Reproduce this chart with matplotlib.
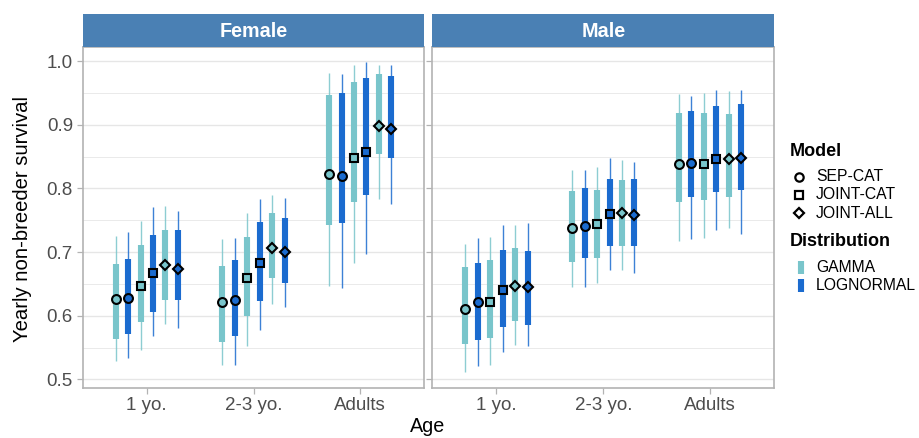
import matplotlib
matplotlib.use("Agg")
import matplotlib.pyplot as plt
import numpy as np

plt.rcParams['font.family'] = ['Liberation Sans', 'DejaVu Sans']

# ---------------- data ----------------
sexes = ["Female", "Male"]
ages = ["1 yo.", "2-3 yo.", "Adults"]
models = ["SEP-CAT", "JOINT-CAT", "JOINT-ALL"]
dists = ["GAMMA", "LOGNORMAL"]
# bars within each age group: (model, distribution)
combo_model = ["SEP-CAT", "SEP-CAT", "JOINT-CAT", "JOINT-CAT", "JOINT-ALL", "JOINT-ALL"]
combo_dist = ["GAMMA", "LOGNORMAL", "GAMMA", "LOGNORMAL", "GAMMA", "LOGNORMAL"]

# rows = ages, columns = combos
female_lo95 = [[0.529, 0.533, 0.546, 0.568, 0.587, 0.580],
               [0.522, 0.523, 0.553, 0.578, 0.619, 0.614],
               [0.647, 0.643, 0.683, 0.697, 0.783, 0.776]]
female_lo50 = [[0.563, 0.571, 0.590, 0.606, 0.625, 0.624],
               [0.559, 0.568, 0.600, 0.623, 0.659, 0.651],
               [0.742, 0.745, 0.778, 0.789, 0.854, 0.848]]
female_med = [[0.627, 0.628, 0.646, 0.667, 0.679, 0.674],
              [0.622, 0.625, 0.659, 0.683, 0.707, 0.700],
              [0.822, 0.819, 0.847, 0.857, 0.898, 0.893]]
female_hi50 = [[0.682, 0.689, 0.711, 0.726, 0.735, 0.734],
               [0.678, 0.687, 0.723, 0.747, 0.762, 0.754],
               [0.946, 0.950, 0.967, 0.973, 0.980, 0.976]]
female_hi95 = [[0.725, 0.732, 0.749, 0.770, 0.772, 0.765],
               [0.721, 0.722, 0.762, 0.784, 0.790, 0.785],
               [0.981, 0.979, 0.994, 0.998, 0.993, 0.993]]

male_lo95 = [[0.511, 0.521, 0.522, 0.543, 0.554, 0.552],
             [0.645, 0.645, 0.652, 0.672, 0.672, 0.667],
             [0.718, 0.720, 0.722, 0.735, 0.737, 0.729]]
male_lo50 = [[0.555, 0.562, 0.565, 0.583, 0.592, 0.586],
             [0.685, 0.690, 0.691, 0.709, 0.709, 0.710],
             [0.778, 0.786, 0.782, 0.795, 0.786, 0.798]]
male_med = [[0.611, 0.622, 0.621, 0.641, 0.647, 0.645],
            [0.738, 0.741, 0.744, 0.759, 0.762, 0.758],
            [0.839, 0.840, 0.838, 0.846, 0.846, 0.848]]
male_hi50 = [[0.676, 0.683, 0.687, 0.704, 0.706, 0.701],
             [0.796, 0.800, 0.798, 0.815, 0.813, 0.815],
             [0.919, 0.921, 0.919, 0.929, 0.917, 0.932]]
male_hi95 = [[0.712, 0.722, 0.723, 0.743, 0.743, 0.745],
             [0.829, 0.829, 0.833, 0.848, 0.845, 0.841],
             [0.948, 0.945, 0.950, 0.955, 0.953, 0.955]]

yticks = [0.5, 0.6, 0.7, 0.8, 0.9, 1.0]
ytick_labels = ["0.5", "0.6", "0.7", "0.8", "0.9", "1.0"]

# ---------------- style ----------------
dist_color = {"GAMMA": "#79C5CB", "LOGNORMAL": "#1B6BCF"}
model_marker = {"SEP-CAT": "o", "JOINT-CAT": "s", "JOINT-ALL": "D"}
model_ms = {"SEP-CAT": 6.4, "JOINT-CAT": 6.0, "JOINT-ALL": 5.5}
strip_color = "#4A80B4"
grid_color = "#E6E6E6"
border_color = "#B3B3B3"
text_grey = "#4D4D4D"

W, H = 920, 438
fig = plt.figure(figsize=(W / 100, H / 100), dpi=100)


def fx(px):
    return px / W


def fy(py):
    return 1 - py / H


panel_top, panel_bot = 47.0, 387.7
strip_top = 14.0
panels_x = [(82.7, 424.3), (432.3, 774.3)]

data = {
    "Female": (female_lo95, female_lo50, female_med, female_hi50, female_hi95),
    "Male": (male_lo95, male_lo50, male_med, male_hi50, male_hi95),
}

dodge = 0.7
n = len(combo_model)
step = dodge / n

for k, sex in enumerate(sexes):
    x0, x1 = panels_x[k]
    ax = fig.add_axes([fx(x0), fy(panel_bot), fx(x1 - x0), (panel_bot - panel_top) / H])
    lo95, lo50, med, hi50, hi95 = data[sex]
    for i, age in enumerate(ages):
        for j in range(n):
            x = i + (j - (n - 1) / 2) * step
            c = dist_color[combo_dist[j]]
            ax.vlines(x, lo95[i][j], hi95[i][j], color=c, lw=1.0, alpha=0.85, zorder=2)
            ax.vlines(x, lo50[i][j], hi50[i][j], color=c, lw=4.4, zorder=3)
            m = combo_model[j]
            ax.plot([x], [med[i][j]], ls="none", marker=model_marker[m],
                    ms=model_ms[m], mfc=c, mec="black", mew=1.5, zorder=4)
    ax.set_xlim(-0.6, len(ages) - 0.4)
    ax.set_ylim(0.487, 1.022)
    ax.set_xticks(range(len(ages)))
    ax.set_xticklabels(ages, fontsize=13.5, color=text_grey)
    ax.set_yticks(yticks)
    if k == 0:
        ax.set_yticklabels(ytick_labels, fontsize=13.5, color=text_grey)
    else:
        ax.set_yticklabels([])
    ax.set_yticks([0.55, 0.65, 0.75, 0.85, 0.95], minor=True)
    ax.grid(axis="y", which="major", color=grid_color, lw=1.0, zorder=0)
    ax.grid(axis="y", which="minor", color=grid_color, lw=0.6, zorder=0)
    ax.set_axisbelow(True)
    ax.tick_params(axis="both", which="major", length=4, width=0.9, color=border_color, pad=3)
    ax.tick_params(axis="y", which="minor", length=0)
    for sp in ax.spines.values():
        sp.set_color(border_color)
        sp.set_linewidth(1.2)

    # strip
    sax = fig.add_axes([fx(x0), fy(panel_top), fx(x1 - x0), (panel_top - strip_top) / H])
    sax.set_facecolor(strip_color)
    sax.set_xticks([])
    sax.set_yticks([])
    for sp in sax.spines.values():
        sp.set_visible(False)
    sax.text(0.5, 0.47, sex, transform=sax.transAxes, ha="center", va="center",
             color="white", fontsize=14.2, fontweight="bold")

# axis titles
fig.text(fx(23), fy(219), "Yearly non-breeder survival", rotation=90,
         ha="center", va="center", fontsize=14.6, color="black")
fig.text(fx(428), fy(427), "Age", ha="center", va="center", fontsize=14.2, color="black")

# legends (drawn in pixel coordinates)
lax = fig.add_axes([0, 0, 1, 1], facecolor="none")
lax.set_xlim(0, W)
lax.set_ylim(H, 0)
lax.axis("off")
lax.text(790, 152, "Model", fontsize=13, fontweight="bold", ha="left", va="center")
for r, m in enumerate(models):
    yy = 176.5 + r * 18.3
    lax.plot([799], [yy], ls="none", marker=model_marker[m], ms=model_ms[m] - 0.4,
             mfc="white", mec="black", mew=1.6)
    lax.text(816, yy, m, fontsize=11.3, ha="left", va="center", color="black")
lax.text(790, 242, "Distribution", fontsize=13, fontweight="bold", ha="left", va="center")
for r, d in enumerate(dists):
    yy = 267.5 + r * 17.5
    lax.plot([801, 801], [yy - 6.5, yy + 6.5], color=dist_color[d], lw=4.4,
             solid_capstyle="butt")
    lax.text(816, yy, d, fontsize=11.3, ha="left", va="center", color="black")

fig.savefig("out.png", dpi=100)
